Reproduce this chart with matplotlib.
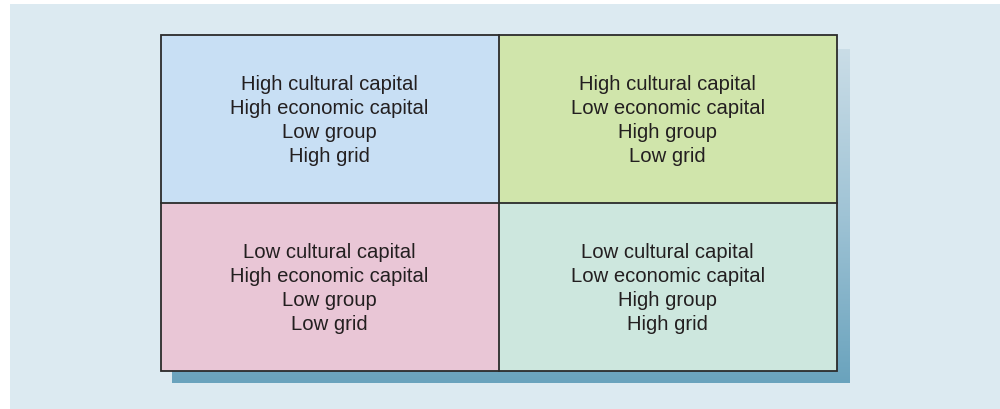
import numpy as np
import matplotlib.pyplot as plt
from matplotlib.patches import Rectangle
from matplotlib.colors import LinearSegmentedColormap

# quadrant labels (row, col) -> lines
cells = [
    (0, 0, ["High cultural capital", "High economic capital", "Low group", "High grid"]),
    (0, 1, ["High cultural capital", "Low economic capital", "High group", "Low grid"]),
    (1, 0, ["Low cultural capital", "High economic capital", "Low group", "Low grid"]),
    (1, 1, ["Low cultural capital", "Low economic capital", "High group", "High grid"]),
]
cell_colors = {(0, 0): "#c8dff4", (0, 1): "#d0e5ab", (1, 0): "#e9c6d6", (1, 1): "#cde7de"}

fig = plt.figure(figsize=(10, 4.1), dpi=100)
ax = fig.add_axes([0, 0, 1, 1])
ax.set_xlim(0, 1000)
ax.set_ylim(410, 0)
ax.axis("off")

# background panel
ax.add_patch(Rectangle((10, 5), 990, 405, facecolor="#dceaf1", edgecolor="none", zorder=0))

# shadow with vertical gradient
cmap = LinearSegmentedColormap.from_list("sh", ["#cadde7", "#9fc3d5", "#6aa3bd"])
grad = np.linspace(0, 1, 256).reshape(-1, 1)
ax.imshow(grad, cmap=cmap, extent=(172, 850, 384, 50), aspect="auto", zorder=1)

x0, x1, xm = 160.5, 837, 498.5
y0, y1, ym = 36, 371.5, 203.5
xs = [x0, xm, x1]
ys = [y0, ym, y1]

for r, c, lines in cells:
    ax.add_patch(Rectangle((xs[c], ys[r]), xs[c + 1] - xs[c], ys[r + 1] - ys[r],
                           facecolor=cell_colors[(r, c)], edgecolor="none", zorder=2))
    cx = (xs[c] + xs[c + 1]) / 2
    cy = (ys[r] + ys[r + 1]) / 2
    ax.text(cx, cy + 1, "\n".join(lines), ha="center", va="center", fontsize=14.6,
            family="Liberation Sans", color="#231f20", linespacing=1.33, zorder=3)

ax.add_patch(Rectangle((x0, y0), x1 - x0, y1 - y0, facecolor="none",
                       edgecolor="#2b2b2b", lw=1.3, zorder=4))
ax.plot([xm, xm], [y0, y1], color="#2b2b2b", lw=1.3, zorder=4)
ax.plot([x0, x1], [ym, ym], color="#2b2b2b", lw=1.3, zorder=4)

fig.savefig("out.png", dpi=100)
